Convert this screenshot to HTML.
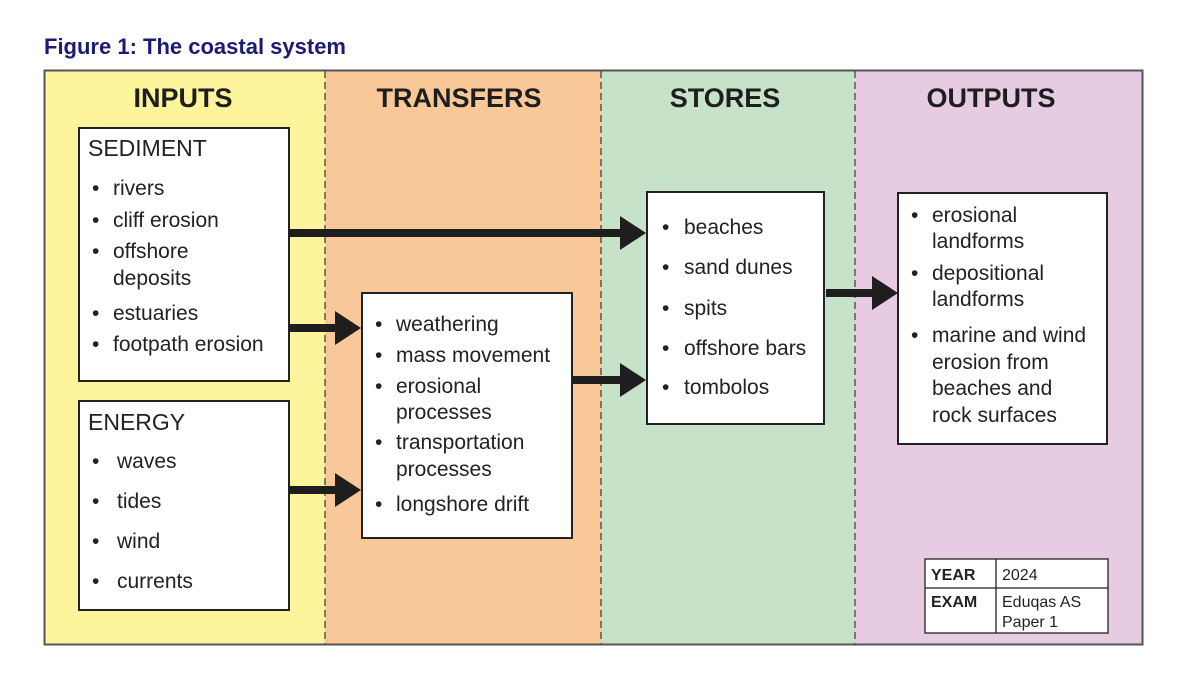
<!DOCTYPE html>
<html><head><meta charset="utf-8"><style>
html,body{margin:0;padding:0;background:#fff;width:1200px;height:675px;overflow:hidden;font-family:"Liberation Sans",Arial,sans-serif}
svg text{font-family:"Liberation Sans",Arial,sans-serif;fill:#222}
.h{font-family:"Liberation Sans Narrow","Liberation Sans",Arial,sans-serif;font-weight:bold;font-size:27px;text-anchor:middle;fill:#1e1e1e}
.t{font-size:21px}
</style></head><body>
<svg width="1200" height="675" viewBox="0 0 1200 675" font-family="Liberation Sans, Arial, sans-serif">
<text x="44" y="54" style="font-weight:bold;font-size:22px;fill:#1b1b72">Figure 1: The coastal system</text>
<rect x="44" y="70" width="281" height="575" fill="#fdf49b"/>
<rect x="325" y="70" width="276" height="575" fill="#f9c898"/>
<rect x="601" y="70" width="254" height="575" fill="#c6e2c8"/>
<rect x="855" y="70" width="288" height="575" fill="#e6cbe2"/>
<rect x="44.5" y="70.5" width="1098" height="574" fill="none" stroke="#555" stroke-width="2"/>
<g stroke="#444" stroke-width="1.3" stroke-dasharray="7,4">
<line x1="325" y1="71" x2="325" y2="644"/><line x1="601" y1="71" x2="601" y2="644"/><line x1="855" y1="71" x2="855" y2="644"/></g>
<text class="h" x="183" y="107">INPUTS</text>
<text class="h" x="459" y="107">TRANSFERS</text>
<text class="h" x="725" y="107">STORES</text>
<text class="h" x="991" y="107">OUTPUTS</text>
<g fill="#fff" stroke="#222" stroke-width="2">
<rect x="79" y="128" width="210" height="253"/>
<rect x="79" y="401" width="210" height="209"/>
<rect x="362" y="293" width="210" height="245"/>
<rect x="647" y="192" width="177" height="232"/>
<rect x="898" y="193" width="209" height="251"/>
<rect x="925" y="559" width="183" height="74" stroke-width="1.3"/>
</g>
<g stroke="#222" stroke-width="1.3"><line x1="925" y1="588" x2="1108" y2="588"/><line x1="996" y1="559" x2="996" y2="633"/></g>
<g fill="#1e1e1e">
<path d="M289 229h331v-13l26 17-26 17v-13h-331z"/>
<path d="M289 324h46v-13l26 17-26 17v-13h-46z"/>
<path d="M289 486h46v-13l26 17-26 17v-13h-46z"/>
<path d="M572 376h48v-13l26 17-26 17v-13h-48z"/>
<path d="M826 289h46v-13l26 17-26 17v-13h-46z"/>
</g>
<g class="t" font-size="21">
<text x="88" y="156" style="font-size:23px">SEDIMENT</text>
<text x="92" y="195">•</text><text x="113" y="195">rivers</text>
<text x="92" y="227">•</text><text x="113" y="227">cliff erosion</text>
<text x="92" y="258">•</text><text x="113" y="258">offshore</text>
<text x="113" y="285">deposits</text>
<text x="92" y="320">•</text><text x="113" y="320">estuaries</text>
<text x="92" y="351">•</text><text x="113" y="351">footpath erosion</text>
<text x="88" y="430" style="font-size:23px">ENERGY</text>
<text x="92" y="468">•</text><text x="117" y="468">waves</text>
<text x="92" y="508">•</text><text x="117" y="508">tides</text>
<text x="92" y="548">•</text><text x="117" y="548">wind</text>
<text x="92" y="588">•</text><text x="117" y="588">currents</text>
<text x="375" y="331">•</text><text x="396" y="331">weathering</text>
<text x="375" y="362">•</text><text x="396" y="362">mass movement</text>
<text x="375" y="393">•</text><text x="396" y="393">erosional</text>
<text x="396" y="419">processes</text>
<text x="375" y="449">•</text><text x="396" y="449">transportation</text>
<text x="396" y="476">processes</text>
<text x="375" y="511">•</text><text x="396" y="511">longshore drift</text>
<text x="662" y="234">•</text><text x="684" y="234">beaches</text>
<text x="662" y="274">•</text><text x="684" y="274">sand dunes</text>
<text x="662" y="315">•</text><text x="684" y="315">spits</text>
<text x="662" y="355">•</text><text x="684" y="355">offshore bars</text>
<text x="662" y="394">•</text><text x="684" y="394">tombolos</text>
<text x="911" y="222">•</text><text x="932" y="222">erosional</text>
<text x="932" y="248">landforms</text>
<text x="911" y="280">•</text><text x="932" y="280">depositional</text>
<text x="932" y="306">landforms</text>
<text x="911" y="342">•</text><text x="932" y="342">marine and wind</text>
<text x="932" y="369">erosion from</text>
<text x="932" y="395">beaches and</text>
<text x="932" y="422">rock surfaces</text>
</g>
<g font-size="16">
<text x="931" y="580" style="font-weight:bold;font-size:16px">YEAR</text>
<text x="1002" y="580" style="font-size:16px">2024</text>
<text x="931" y="607" style="font-weight:bold;font-size:16px">EXAM</text>
<text x="1002" y="607" style="font-size:16px">Eduqas AS</text>
<text x="1002" y="627" style="font-size:16px">Paper 1</text>
</g>
</svg>
</body></html>
